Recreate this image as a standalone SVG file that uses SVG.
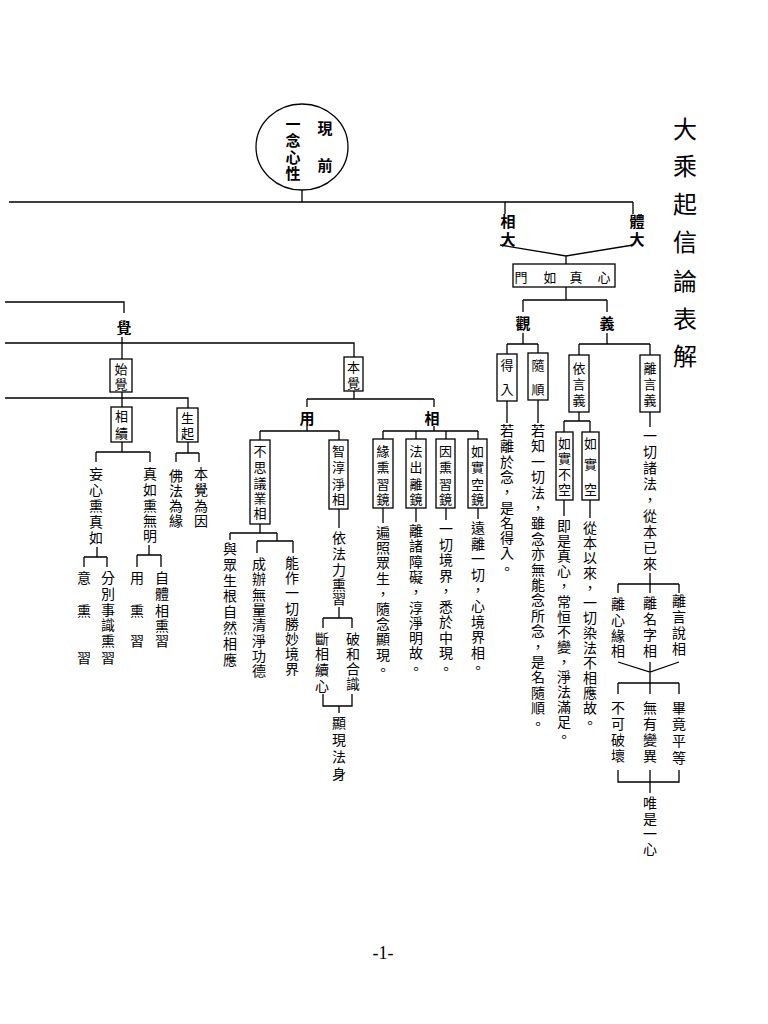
<svg xmlns="http://www.w3.org/2000/svg" width="768" height="1024" viewBox="0 0 768 1024">
<style>
.l{stroke:#000;stroke-width:1.3;fill:none}
.b{fill:#fff;stroke:#000;stroke-width:1.3}
.t{font-family:"Noto Sans CJK TC","Noto Sans CJK SC",sans-serif;font-size:14px;text-anchor:middle;dominant-baseline:central;fill:#000}
.s{font-size:13px}
.k{font-weight:bold;font-size:15px}
.ti{font-size:24px}
.pg{font-family:"Liberation Serif",serif;font-size:18px;text-anchor:middle;fill:#000}
</style>
<rect width="768" height="1024" fill="#fff"/>
<g id="connectors">
<path class="l" d="M302 190V202M9 202H633M505 202V214M633 202V214M500 245L566 256L633 245M566 256V264"/>
<path class="l" d="M566 287V300M523 300H607M523 300V312M607 300V312M523 333V344M607 333V344"/>
<path class="l" d="M507 344H538M507 344V354M538 344V353M579 344H650M579 344V355M650 344V355"/>
<path class="l" d="M507 401V423M538 400V423M579 412V421M564 421H590M564 421V432M590 421V432M564 500V516M590 500V518M650 412V427"/>
<path class="l" d="M650 573V584M618 584H679M618 584V593M650 584V593M679 584V593"/>
<path class="l" d="M618 662L650 672L679 662M650 662V683M618 683H679M618 683V694M650 683V694M679 683V694"/>
<path class="l" d="M618 770V782H679V770M650 770V793"/>
<path class="l" d="M5 302H124V313M122 337V359M5 343H354V357M5 398H188V408M122 392V407"/>
<path class="l" d="M122 442V452M96 452H150M96 452V462M150 452V462M188 442V453M176 453H199M176 453V462M199 453V462"/>
<path class="l" d="M97 547V557M84 557H107M84 557V567M107 557V567M149 545V555M137 555H161M137 555V567M161 555V567"/>
<path class="l" d="M354 391V399M307 399H434M307 399V407M434 399V407"/>
<path class="l" d="M307 426V431M260 431H339M260 431V440M339 431V440M434 426V431M383 431H478M383 431V439M416 431V439M446 431V439M478 431V439"/>
<path class="l" d="M260 524V533M230 533H277M230 533V540M277 533V541M257 541H293M257 541V553M293 541V553"/>
<path class="l" d="M339 509V528M339 607V618M323 618H352M323 618V628M352 618V628M323 694V706H352V694M339 706V713"/>
<path class="l" d="M383 508V523M416 508V522M446 508V520M478 508V519"/>
</g>
<g id="title"><text class="t ti" x="685 685 685 685 685 685 685" y="127 164 202 240 279 317 354">大乘起信論表解</text></g>
<g id="n-root">
<ellipse class="b" cx="302" cy="147" rx="46" ry="43"/>
<text class="t k" x="325 325" y="127 164">現前</text>
<text class="t k" x="293 293 293 293" y="123 139 156 172">一念心性</text>
</g>
<g id="n-xiangda"><text class="t k" x="508 508" y="220 238">相大</text></g>
<g id="n-tida"><text class="t k" x="637 637" y="220 238">體大</text></g>
<g id="n-zhenru"><rect class="b" x="513" y="264" width="102" height="23"/><text class="t s" x="521 550 576 604" y="276 276 276 276">門如真心</text></g>
<g id="n-guan"><text class="t k" x="523" y="322">觀</text></g>
<g id="n-yi"><text class="t k" x="607" y="322">義</text></g>
<g id="n-deru"><rect class="b" x="497" y="354" width="20" height="47"/><text class="t s" x="507 507" y="364 388">得入</text>
<text class="t" x="507 507 507 507 507 507 507 507 507 507" y="430 445 461 476 491 507 522 537 552 568">若離於念，是名得入。</text></g>
<g id="n-suishun"><rect class="b" x="528" y="353" width="20" height="47"/><text class="t s" x="538 538" y="364 388">隨順</text>
<text class="t" x="538 538 538 538 538 538 538 538 538 538 538 538 538 538 538 538 538 538 538 538" y="430 445 461 476 492 507 522 538 553 569 584 599 615 630 646 661 676 692 707 723">若知一切法，雖念亦無能念所念，是名隨順。</text></g>
<g id="n-yiyanyi"><rect class="b" x="569" y="355" width="20" height="57"/><text class="t s" x="579 579 579" y="367 383 399">依言義</text></g>
<g id="n-liyanyi"><rect class="b" x="640" y="355" width="20" height="57"/><text class="t s" x="650 650 650" y="367 383 399">離言義</text>
<text class="t" x="650 650 650 650 650 650 650 650 650" y="435 451 467 483 499 515 531 547 563">一切諸法，從本已來</text></g>
<g id="n-rushibukong"><rect class="b" x="556" y="432" width="17" height="68"/><text class="t s" x="564.5 564.5 564.5 564.5" y="442 457 473 488">如實不空</text>
<text class="t" x="564 564 564 564 564 564 564 564 564 564 564 564 564 564 564" y="525 540 555 570 585 601 616 631 646 661 676 691 706 721 736">即是真心，常恒不變，淨法滿足。</text></g>
<g id="n-rushikong"><rect class="b" x="582" y="432" width="17" height="68"/><text class="t s" x="590.5 590.5 590.5" y="442 463 488">如實空</text>
<text class="t" x="590 590 590 590 590 590 590 590 590 590 590 590 590 590" y="527 542 557 572 587 602 617 632 647 662 677 692 707 722">從本以來，一切染法不相應故。</text></g>
<g id="n-lixinyuan"><text class="t" x="618 618 618 618" y="603 619 635 650">離心緣相</text></g>
<g id="n-limingzi"><text class="t" x="650 650 650 650" y="602 618 634 650">離名字相</text></g>
<g id="n-liyanshuo"><text class="t" x="679 679 679 679" y="600 616 632 648">離言說相</text></g>
<g id="n-bukepo"><text class="t" x="618 618 618 618" y="707 723 739 755">不可破壞</text></g>
<g id="n-wuyou"><text class="t" x="650 650 650 650" y="707 723 739 755">無有變異</text></g>
<g id="n-bijing"><text class="t" x="679 679 679 679" y="707 723 740 757">畢竟平等</text></g>
<g id="n-weishi"><text class="t" x="650 650 650 650" y="802 818 833 848">唯是一心</text></g>
<g id="n-jue"><text class="t k" x="124" y="326">覺</text></g>
<g id="n-shijue"><rect class="b" x="110" y="359" width="22" height="33"/><text class="t s" x="121 121" y="368 383">始覺</text></g>
<g id="n-xiangxu"><rect class="b" x="111" y="407" width="21" height="35"/><text class="t s" x="121.5 121.5" y="415 432">相續</text></g>
<g id="n-shengqi"><rect class="b" x="177" y="408" width="21" height="34"/><text class="t s" x="187.5 187.5" y="417 432">生起</text></g>
<g id="n-wangxin"><text class="t" x="96 96 96 96 96" y="473 489 505 521 537">妄心熏真如</text></g>
<g id="n-zhenruxun"><text class="t" x="150 150 150 150 150" y="473 489 505 520 535">真如熏無明</text></g>
<g id="n-fofa"><text class="t" x="176 176 176 176" y="475 490 505 520">佛法為緣</text></g>
<g id="n-benjueyin"><text class="t" x="201 201 201 201" y="473 489 505 520">本覺為因</text></g>
<g id="n-yixun"><text class="t" x="84 84 84" y="577 610 657">意熏習</text></g>
<g id="n-fenbie"><text class="t" x="108 108 108 108 108 108" y="577 593 609 624 640 657">分別事識熏習</text></g>
<g id="n-yongxun"><text class="t" x="137 137 137" y="577 610 640">用熏習</text></g>
<g id="n-ziti"><text class="t" x="162 162 162 162 162" y="577 593 610 625 640">自體相熏習</text></g>
<g id="n-benjue"><rect class="b" x="344" y="357" width="19" height="34"/><text class="t s" x="353.5 353.5" y="366 382">本覺</text></g>
<g id="n-yong"><text class="t k" x="307" y="417">用</text></g>
<g id="n-xiang"><text class="t k" x="432" y="417">相</text></g>
<g id="n-busiyi"><rect class="b" x="250" y="440" width="20" height="84"/><text class="t s" x="260 260 260 260 260" y="450 466 482 497 512">不思議業相</text></g>
<g id="n-yuzhong"><text class="t" x="230 230 230 230 230 230 230 230" y="548 564 580 595 611 627 643 659">與眾生根自然相應</text></g>
<g id="n-chengban"><text class="t" x="259 259 259 259 259 259 259 259" y="563 578 594 609 624 640 655 670">成辦無量清淨功德</text></g>
<g id="n-nengzuo"><text class="t" x="292 292 292 292 292 292 292 292" y="562 577 592 608 623 638 653 668">能作一切勝妙境界</text></g>
<g id="n-zhichun"><rect class="b" x="329" y="440" width="19" height="69"/><text class="t s" x="338.5 338.5 338.5 338.5" y="450 466 483 498">智淳淨相</text>
<text class="t" x="339 339 339 339 339" y="537 553 569 584 598">依法力熏習</text></g>
<g id="n-duan"><text class="t" x="322 322 322 322" y="638 653 669 685">斷相續心</text></g>
<g id="n-po"><text class="t" x="353 353 353 353" y="638 653 668 683">破和合識</text></g>
<g id="n-xianxian"><text class="t" x="339 339 339 339" y="722 739 756 773">顯現法身</text></g>
<g id="n-yuanxun"><rect class="b" x="373" y="439" width="20" height="69"/><text class="t s" x="383 383 383 383" y="450 466 483 498">緣熏習鏡</text>
<text class="t" x="383 383 383 383 383 383 383 383 383 383" y="532 547 562 578 593 608 623 638 654 669">遍照眾生，隨念顯現。</text></g>
<g id="n-fachu"><rect class="b" x="406" y="439" width="20" height="69"/><text class="t s" x="416 416 416 416" y="450 466 483 498">法出離鏡</text>
<text class="t" x="416 416 416 416 416 416 416 416 416 416" y="530 545 561 576 591 607 622 637 652 668">離諸障礙，淳淨明故。</text></g>
<g id="n-yinxun"><rect class="b" x="436" y="439" width="19" height="69"/><text class="t s" x="445.5 445.5 445.5 445.5" y="450 466 483 498">因熏習鏡</text>
<text class="t" x="446 446 446 446 446 446 446 446 446 446" y="528 544 559 575 590 606 621 637 652 668">一切境界，悉於中現。</text></g>
<g id="n-rushikongjing"><rect class="b" x="468" y="439" width="19" height="69"/><text class="t s" x="477.5 477.5 477.5 477.5" y="450 466 483 498">如實空鏡</text>
<text class="t" x="478 478 478 478 478 478 478 478 478 478" y="527 543 558 574 589 605 621 636 652 667">遠離一切，心境界相。</text></g>
<text class="pg" x="383" y="959">-1-</text>
</svg>
